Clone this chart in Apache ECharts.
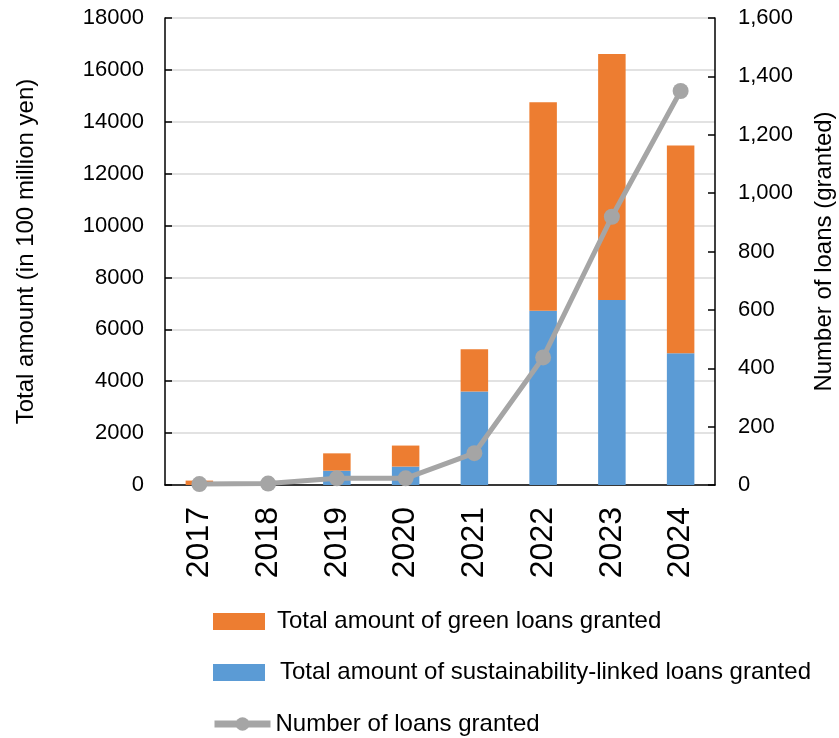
<!DOCTYPE html>
<html>
<head>
<meta charset="utf-8">
<script src="https://cdn.jsdelivr.net/npm/echarts@6/dist/echarts.min.js"></script>
<style>
  html, body { margin: 0; padding: 0; background: #fff; }
  #chart { width: 839px; height: 738px; }
</style>
</head>
<body>
<div id="chart"></div>
<script>
// Fiscal years
const years = ['2017', '2018', '2019', '2020', '2021', '2022', '2023', '2024'];
// Total amount of sustainability-linked loans granted (100 million yen)
const sllAmount = [0, 0, 550, 710, 3600, 6720, 7130, 5080];
// Total amount of green loans granted (100 million yen)
const greenAmount = [170, 30, 670, 810, 1630, 8030, 9480, 8010];
// Number of loans granted
const loanCount = [3, 5, 23, 23, 109, 437, 919, 1350];

const FONT = 'Liberation Sans, Arial, sans-serif';
const GREY = '#a5a5a5';
const names = {
  green: 'Total amount of green loans granted',
  sll: 'Total amount of sustainability-linked loans granted',
  count: 'Number of loans granted'
};

// one legend block per row so each row sits at its own height
function legendRow(item, top, left, width, textPad) {
  return {
    orient: 'vertical',
    left: left,
    top: top,
    padding: 0,
    itemWidth: width,
    itemHeight: 17,
    selectedMode: false,
    textStyle: { fontFamily: FONT, fontSize: 24, lineHeight: 24, color: '#000', padding: [0, 0, 0, textPad] },
    data: [item]
  };
}

const chart = echarts.init(document.getElementById('chart'), null, { renderer: 'canvas' });
chart.setOption({
  animation: false,
  backgroundColor: '#ffffff',
  textStyle: { fontFamily: FONT, color: '#000' },
  grid: {
    left: 165, right: 124, top: 18, bottom: 253,
    containLabel: false,
    outerBoundsMode: 'none'
  },
  legend: [
    legendRow({ name: names.green, icon: 'rect' }, 609.5, 213, 52, 7),
    legendRow({ name: names.sll, icon: 'rect' }, 660.5, 213, 52, 10),
    legendRow({
      name: names.count,
      lineStyle: { color: GREY, width: 7 },
      itemStyle: { color: GREY }
    }, 712, 211, 56, 0)
  ],
  xAxis: {
    type: 'category',
    data: years,
    axisLine: { lineStyle: { color: '#000', width: 1.5 } },
    axisTick: { show: false },
    axisLabel: { rotate: 90, fontSize: 32, color: '#000', fontFamily: FONT, margin: 22 }
  },
  yAxis: [
    {
      type: 'value',
      min: 0, max: 18000, interval: 2000,
      name: 'Total amount (in 100 million yen)',
      nameLocation: 'middle',
      nameRotate: 90,
      nameGap: 127,
      nameTextStyle: { fontSize: 24, color: '#000', fontFamily: FONT },
      axisLine: { show: true, lineStyle: { color: '#000', width: 1.5 } },
      axisTick: { show: true, inside: true, length: 7, lineStyle: { color: '#000', width: 1.5 } },
      axisLabel: { fontSize: 22, color: '#000', fontFamily: FONT, margin: 21, formatter: v => String(v) },
      splitLine: { show: true, lineStyle: { color: '#d9d9d9', width: 1.5 } }
    },
    {
      type: 'value',
      min: 0, max: 1600, interval: 200,
      name: 'Number of loans (granted)',
      nameLocation: 'middle',
      nameRotate: 90,
      nameGap: 97,
      nameTextStyle: { fontSize: 24, color: '#000', fontFamily: FONT },
      axisLine: { show: true, lineStyle: { color: '#000', width: 1.5 } },
      axisTick: { show: true, inside: true, length: 7, lineStyle: { color: '#000', width: 1.5 } },
      axisLabel: {
        fontSize: 22, color: '#000', fontFamily: FONT, margin: 23,
        formatter: v => v.toLocaleString('en-US')
      },
      splitLine: { show: false }
    }
  ],
  series: [
    {
      name: names.sll,
      type: 'bar',
      stack: 'amount',
      barWidth: '40%',
      itemStyle: { color: '#5b9bd5' },
      data: sllAmount
    },
    {
      name: names.green,
      type: 'bar',
      stack: 'amount',
      barWidth: '40%',
      itemStyle: { color: '#ed7d31' },
      data: greenAmount
    },
    {
      name: names.count,
      type: 'line',
      yAxisIndex: 1,
      symbol: 'circle',
      symbolSize: 16,
      lineStyle: { color: GREY, width: 5 },
      itemStyle: { color: GREY },
      data: loanCount
    }
  ]
});
</script>
</body>
</html>
